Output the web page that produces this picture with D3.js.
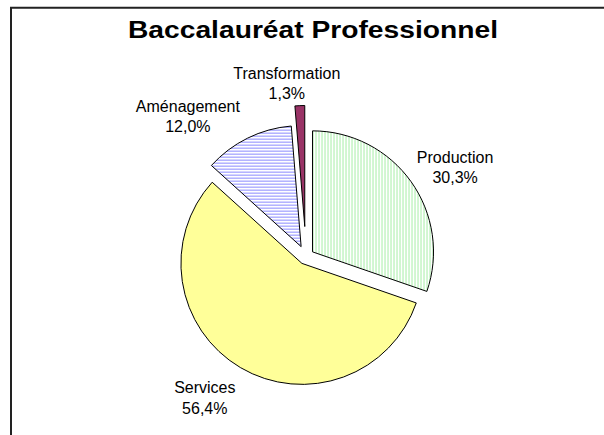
<!DOCTYPE html>
<html>
<head>
<meta charset="utf-8">
<script src="https://cdn.jsdelivr.net/npm/d3@7"></script>
<style>
  html, body { margin: 0; padding: 0; background: #fff; }
  svg { display: block; }
  text { font-family: "Liberation Sans", Arial, sans-serif; fill: #000; }
</style>
</head>
<body>
<svg id="chart" width="604" height="435"></svg>
<script>
// ---- data ----
const title = "Baccalauréat Professionnel";
const categories = ["Production", "Services", "Aménagement", "Transformation"];
const values = [30.3, 56.4, 12.0, 1.3];
const percentLabels = ["30,3%", "56,4%", "12,0%", "1,3%"];

// ---- layout / styles ----
const W = 604, H = 435;
const cx = 306, cy = 256.5, R = 121;
const explode = [8, 8, 11, 30];
const fills = ["url(#pGreen)", "#FFFF99", "url(#pBlue)", "#993366"];
const labelGap = 12;
const labelBox = [[78, 40], [63, 40], [98, 40], [110, 40]];
const labelNudge = [[2.5, 4], [-13.4, 2.8], [-32.7, 6.9], [-10.3, 9.4]];

const svg = d3.select("#chart");
const defs = svg.append("defs");

const pg = defs.append("pattern").attr("id", "pGreen")
  .attr("patternUnits", "userSpaceOnUse").attr("width", 3).attr("height", 3);
pg.append("rect").attr("width", 3).attr("height", 3).attr("fill", "#fff");
pg.append("rect").attr("x", 0).attr("width", 1).attr("height", 3).attr("fill", "#a6eea6");

const pb = defs.append("pattern").attr("id", "pBlue")
  .attr("patternUnits", "userSpaceOnUse").attr("width", 3).attr("height", 3);
pb.append("rect").attr("width", 3).attr("height", 3).attr("fill", "#fff");
pb.append("rect").attr("y", 0).attr("width", 3).attr("height", 1).attr("fill", "#8a8aff");

// frame
svg.append("path")
  .attr("d", `M11,${H + 5} L11,7.7 L${W + 5},7.7`)
  .attr("fill", "none").attr("stroke", "#222").attr("stroke-width", 2);

// title
svg.append("text")
  .attr("x", 313).attr("y", 37.5)
  .attr("text-anchor", "middle")
  .attr("font-size", 23.5).attr("font-weight", "bold")
  .attr("textLength", 370).attr("lengthAdjust", "spacingAndGlyphs")
  .text(title);

// pie
const data = categories.map((c, i) => ({ cat: c, value: values[i], pct: percentLabels[i], i }));
const pie = d3.pie().value(d => d.value).sort(null).startAngle(0).endAngle(2 * Math.PI);
const arcs = pie(data);
const arc = d3.arc().innerRadius(0).outerRadius(R);

const g = svg.append("g").attr("transform", `translate(${cx},${cy})`);

arcs.forEach(a => {
  const mid = (a.startAngle + a.endAngle) / 2;
  const e = explode[a.data.i];
  const dx = Math.sin(mid) * e, dy = -Math.cos(mid) * e;
  g.append("path")
    .attr("d", arc(a))
    .attr("transform", `translate(${dx},${dy})`)
    .attr("fill", fills[a.data.i])
    .attr("stroke", "#000")
    .attr("stroke-width", 1)
    .attr("stroke-linejoin", "round");

  // label
  const rl = R + e + labelGap;
  const [bw, bh] = labelBox[a.data.i];
  const [nx, ny] = labelNudge[a.data.i];
  const lx = Math.sin(mid) * rl + Math.sin(mid) * bw / 2 + nx;
  const ly = -Math.cos(mid) * rl - Math.cos(mid) * bh / 2 + ny;
  const t = g.append("text")
    .attr("text-anchor", "middle")
    .attr("font-size", 16);
  t.append("tspan").attr("x", lx).attr("y", ly - 4.5).text(a.data.cat);
  t.append("tspan").attr("x", lx).attr("y", ly + 16).text(a.data.pct);
});
</script>
</body>
</html>
